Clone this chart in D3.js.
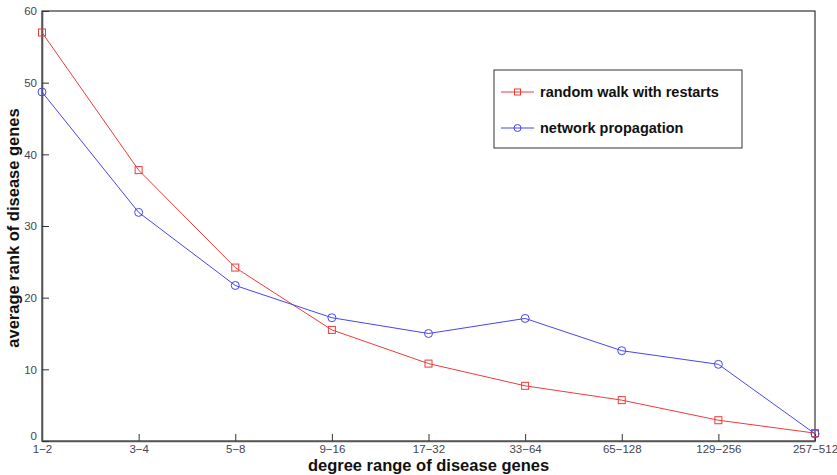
<!DOCTYPE html>
<html lang="en">
<head>
    <meta charset="utf-8">
    <title>Average rank by degree range</title>
    <script type="text/javascript" src="https://d3js.org/d3.v7.min.js"></script>
    <style>
        body { margin: 0; background: #fff; }
        svg text { font-family: "Liberation Sans", Arial, sans-serif; }
    </style>
</head>
<body>
    <script type="text/javascript">

        // Data
        var degreeRanges = ["1-2", "3-4", "5-8", "9-16", "17-32", "33-64", "65-128", "129-256", "257-512"];
        var randomWalk = [57, 37.8, 24.2, 15.5, 10.8, 7.7, 5.7, 2.9, 1.1];
        var networkProp = [48.7, 31.9, 21.7, 17.2, 15.0, 17.1, 12.6, 10.7, 1.0];
        var yTicks = [0, 10, 20, 30, 40, 50, 60];

        var series = [
            { name: "random walk with restarts", values: randomWalk, color: "#f03a3a", marker: "square" },
            { name: "network propagation", values: networkProp, color: "#4646f0", marker: "circle" }
        ];

        var width = 837, height = 475;
        var margin = { top: 11, right: 22, bottom: 34, left: 42 };
        var innerW = width - margin.left - margin.right;
        var innerH = height - margin.top - margin.bottom;

        var svg = d3.select("body").append("svg")
            .attr("width", width)
            .attr("height", height);

        var g = svg.append("g")
            .attr("transform", "translate(" + margin.left + "," + margin.top + ")");

        var x = d3.scalePoint().domain(degreeRanges).range([0, innerW]);
        var y = d3.scaleLinear().domain([0, 60]).range([innerH, 0]);

        // Frame (box)
        g.append("rect")
            .attr("width", innerW)
            .attr("height", innerH)
            .attr("fill", "none")
            .attr("stroke", "#333")
            .attr("stroke-width", 1.2);

        // Ticks pointing inward, MATLAB style
        var xAxis = g.append("g")
            .attr("transform", "translate(0," + innerH + ")")
            .call(d3.axisBottom(x).tickSizeInner(-7).tickSizeOuter(0).tickPadding(4));
        var yAxis = g.append("g")
            .call(d3.axisLeft(y).tickValues(yTicks).tickSizeInner(-7).tickSizeOuter(0).tickPadding(5));

        [xAxis, yAxis].forEach(function(ax) {
            ax.select(".domain").attr("stroke", "#555").attr("stroke-width", 1.6);
            ax.selectAll(".tick line").attr("stroke", "#333");
            ax.selectAll(".tick text").attr("fill", "#454550")
                .attr("font-family", "'Liberation Sans', Arial, sans-serif")
                .attr("font-size", 11.5);
        });
        xAxis.selectAll(".tick text").text(function(d) { return d.replace("-", "\u2212"); });
        yAxis.select(".tick text").attr("dy", "-0.1em");

        // Lines and markers
        var line = d3.line()
            .x(function(d, i) { return x(degreeRanges[i]); })
            .y(function(d) { return y(d); });

        series.forEach(function(s) {
            g.append("path")
                .datum(s.values)
                .attr("d", line)
                .attr("fill", "none")
                .attr("stroke", s.color)
                .attr("stroke-width", 1);

            var pts = g.selectAll(null)
                .data(s.values)
                .enter();
            if (s.marker === "square") {
                pts.append("rect")
                    .attr("x", function(d, i) { return x(degreeRanges[i]) - 3.5; })
                    .attr("y", function(d) { return y(d) - 3.5; })
                    .attr("width", 7).attr("height", 7)
                    .attr("fill", "none").attr("stroke", s.color).attr("stroke-width", 1);
            } else {
                pts.append("circle")
                    .attr("cx", function(d, i) { return x(degreeRanges[i]); })
                    .attr("cy", function(d) { return y(d); })
                    .attr("r", 4)
                    .attr("fill", "none").attr("stroke", s.color).attr("stroke-width", 1);
            }
        });

        // Legend
        var legend = svg.append("g").attr("transform", "translate(494,70)");
        legend.append("rect")
            .attr("width", 248).attr("height", 78)
            .attr("fill", "#fff").attr("stroke", "#333").attr("stroke-width", 1);

        series.forEach(function(s, i) {
            var ly = 22 + i * 36;
            var row = legend.append("g").attr("transform", "translate(0," + ly + ")");
            row.append("line")
                .attr("x1", 7).attr("x2", 40).attr("y1", 0).attr("y2", 0)
                .attr("stroke", s.color).attr("stroke-width", 1);
            if (s.marker === "square") {
                row.append("rect").attr("x", 20.5).attr("y", -3).attr("width", 6).attr("height", 6)
                    .attr("fill", "none").attr("stroke", s.color);
            } else {
                row.append("circle").attr("cx", 23.5).attr("cy", 0).attr("r", 3.5)
                    .attr("fill", "none").attr("stroke", s.color);
            }
            row.append("text")
                .attr("x", 46).attr("y", 0).attr("dy", "0.35em")
                .style("font-size", "14.5px").style("font-weight", "bold")
                .attr("fill", "#111")
                .text(s.name);
        });

        // Axis titles
        svg.append("text")
            .attr("x", margin.left + innerW / 2).attr("y", 470.5)
            .attr("text-anchor", "middle")
            .style("font-size", "16.5px").style("font-weight", "bold")
            .attr("fill", "#111")
            .text("degree range of disease genes");

        svg.append("text")
            .attr("transform", "translate(19,228) rotate(-90)")
            .attr("text-anchor", "middle")
            .style("font-size", "16.5px").style("font-weight", "bold")
            .attr("fill", "#111")
            .text("average rank of disease genes");

    </script>
</body>
</html>
